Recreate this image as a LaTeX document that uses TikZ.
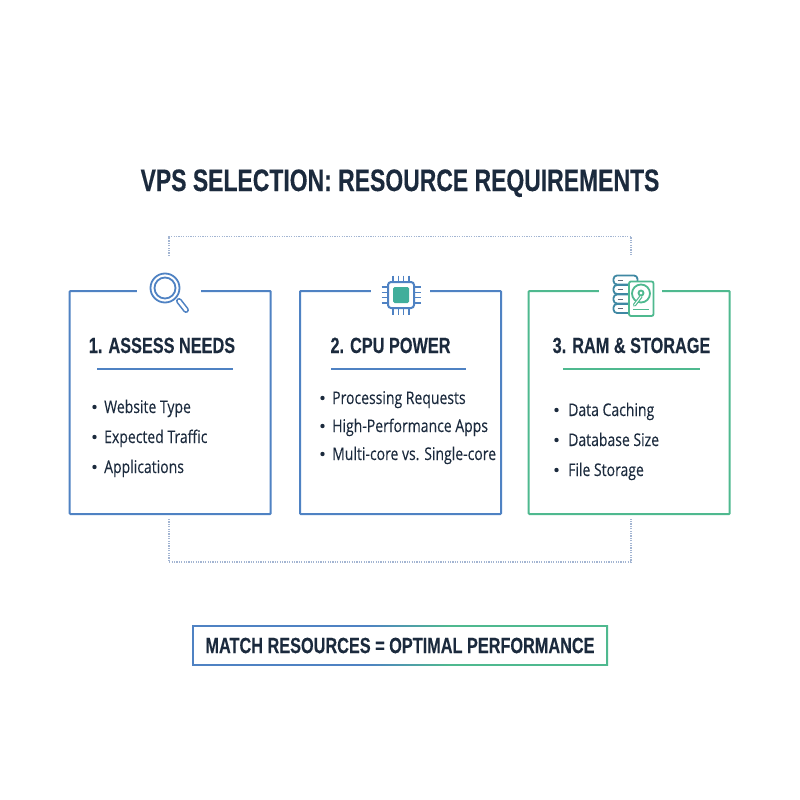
\documentclass[tikz,border=0pt]{standalone}
\usepackage{fontspec}
\setmainfont[FakeStretch=0.74,BoldFeatures={FakeBold=0.25}]{Liberation Sans}
\newfontfamily\bodyfont[FakeStretch=0.8,FakeBold=0.12]{Open Sans}
\usetikzlibrary{positioning}
\definecolor{inkc}{HTML}{1B2A3D}
\definecolor{blueb}{HTML}{4F82C3}
\definecolor{greenb}{HTML}{4FB98F}
\definecolor{tealb}{HTML}{3F88A3}
\definecolor{chipg}{HTML}{41AE9B}
\definecolor{dotc}{HTML}{A3B5D2}
\pgfdeclarehorizontalshading{sumgrad}{100bp}{color(0bp)=(blueb); color(46bp)=(blueb); color(56bp)=(greenb); color(100bp)=(greenb)}
\tikzset{
 x=1pt,y=-1pt,
 card/.style={draw=#1,line width=2pt,minimum width=201pt,minimum height=223pt,inner sep=0pt,rounded corners=0.8pt},
 gap/.style={fill=white,minimum height=8pt,inner sep=0pt},
 heading/.style={font=\bfseries\fontsize{22}{24}\selectfont,text=inkc,inner sep=0pt,anchor=base},
 item/.style={font=\bodyfont\fontsize{17.5}{20}\selectfont,text=inkc,anchor=base west,inner sep=0pt},
 bulletdot/.style={circle,fill=inkc,minimum size=4.4pt,inner sep=0pt},
 rule/.style={line width=2pt,draw=#1},
 link/.style={draw=dotc,line width=1.1pt,dash pattern=on 1.2pt off 1.2pt},
 iconline/.style={draw=#1,line width=1.8pt},
}
\begin{document}
\begin{tikzpicture}
\useasboundingbox (0,0) rectangle (800,800);
\fill[white] (0,0) rectangle (800,800);
% title
\node[font=\bfseries\fontsize{31}{34}\selectfont,text=inkc,inner sep=0pt,anchor=base] (title) at (400,191) {VPS SELECTION: RESOURCE REQUIREMENTS};
% cards
\node[card=blueb] (c1) at (170.2,402.5) {};
\node[card=blueb] (c2) at (400.5,402.5) {};
\node[card=greenb] (c3) at (629.2,402.5) {};
\node[gap,minimum width=64pt] (g1) at (169,291) {};
\node[gap,minimum width=59pt] (g2) at (400.5,291) {};
\node[gap,minimum width=63pt] (g3) at (630.5,291) {};
% dotted links
\coordinate (t1) at (169,256); \coordinate (t2) at (631,256);
\coordinate (tc1) at (169,236.5); \coordinate (tc2) at (631,236.5);
\coordinate (b1) at (169,519); \coordinate (b2) at (631,519);
\coordinate (bc1) at (169,562); \coordinate (bc2) at (631,562);
\draw[link] (t1) -- (tc1) -- (tc2) -- (t2);
\draw[link] (b1) -- (bc1) -- (bc2) -- (b2);
% card headings
\node[heading] (h1) at (162,353) {1. ASSESS NEEDS};
\node[heading] (h2) at (390.5,353) {2. CPU POWER};
\node[heading] (h3) at (631.5,353) {3. RAM \& STORAGE};
\draw[rule=blueb] (97,368.5) -- (233,368.5);
\draw[rule=blueb] (331,368.5) -- (466,368.5);
\draw[rule=greenb] (563,368.5) -- (700,368.5);
% lists
\node[bulletdot] (d11) at (94.5,407) {}; \node[item] (i11) at (104,413) {Website Type};
\node[bulletdot] (d12) at (94.5,437) {}; \node[item] (i12) at (104,443) {Expected Traffic};
\node[bulletdot] (d13) at (94.5,467) {}; \node[item] (i13) at (104,473) {Applications};
\node[bulletdot] (d21) at (322.5,398) {}; \node[item] (i21) at (332,404) {Processing Requests};
\node[bulletdot] (d22) at (322.5,426) {}; \node[item] (i22) at (332,432) {High-Performance Apps};
\node[bulletdot] (d23) at (322.5,454) {}; \node[item] (i23) at (332,460) {Multi-core vs. Single-core};
\node[bulletdot] (d31) at (556.5,410) {}; \node[item] (i31) at (568,416) {Data Caching};
\node[bulletdot] (d32) at (556.5,440) {}; \node[item] (i32) at (568,446) {Database Size};
\node[bulletdot] (d33) at (556.5,470) {}; \node[item] (i33) at (568,476) {File Storage};
% magnifier
\draw[blueb,line width=6pt,line cap=round] (179,301) -- (186,310);
\draw[white,line width=2.8pt,line cap=round] (179,301) -- (186,310);
\draw[iconline=blueb,fill=white] (165,288) circle (14.5);
\draw[iconline=blueb] (165,288) circle (10.5);
% chip
\foreach \k in {-8,-2.7,2.7,8}{
 \draw[blueb,line width=1.5pt] (401+\k,275.5) -- (401+\k,314.5);
 \draw[blueb,line width=1.5pt] (381.5,295+\k) -- (420.5,295+\k);
}
\draw[blueb,line width=2pt,fill=white,rounded corners=3pt] (388,282) rectangle (414,308);
\fill[chipg,rounded corners=1.5pt] (393,287) rectangle (409,303);
% storage stack
\foreach \y in {275.5,285,294.5,304}{
 \draw[iconline=tealb,fill=white,rounded corners=3.5pt] (613.5,\y) rectangle (637.5,\y+9);
 \draw[inkc!70!white,line width=1pt] (617.5,\y+4.5) -- (623,\y+4.5);
}
% disk
\draw[iconline=greenb,fill=white,rounded corners=2pt] (629,281.5) rectangle (653.5,316);
\draw[iconline=greenb] (641,293.5) circle (9);
\draw[iconline=greenb] (641,293) circle (2.5);
\draw[greenb,line width=3.4pt,line cap=round] (634.5,305) -- (641,296.5);
\draw[white,line width=1pt,line cap=round] (634.5,305) -- (641,296.5);
\draw[greenb,line width=1.8pt] (633,309.5) -- (649,309.5);
% summary box
\node[minimum width=416pt,minimum height=40pt,inner sep=0pt,shading=sumgrad] (sumo) at (400,645.5) {};
\node[fill=white,minimum width=412.4pt,minimum height=36.4pt,inner sep=0pt,font=\bfseries\fontsize{22}{24}\selectfont,text=inkc] (sumi) at (sumo.center) {MATCH RESOURCES = OPTIMAL PERFORMANCE};
\end{tikzpicture}
\end{document}
